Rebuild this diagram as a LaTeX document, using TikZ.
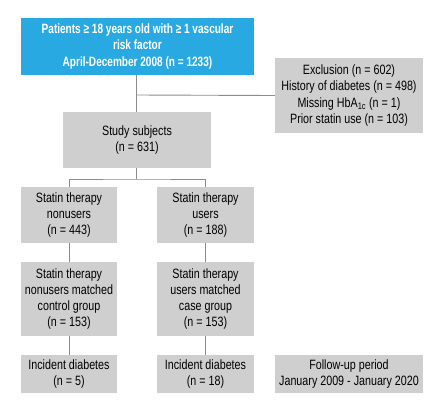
\documentclass[tikz,border=0pt]{standalone}
\usepackage{fontspec}
\setmainfont{Liberation Sans}[FakeStretch=0.795, BoldFeatures={FakeStretch=0.745}]
\usetikzlibrary{positioning, calc}
\definecolor{boxgray}{HTML}{CFCFCF}
\definecolor{topblue}{HTML}{29A9E1}
\definecolor{linegray}{HTML}{8C8C8C}

\begin{document}
\begin{tikzpicture}[x=1pt, y=-1pt,
    every node/.style={align=center, inner sep=0pt, font=\fontsize{13.5}{16.3}\selectfont},
    graybox/.style={fill=boxgray, minimum height=#1},
    wide/.style={minimum width=148pt},
    narrow/.style={minimum width=96.5pt},
    link/.style={draw=linegray, line width=0.9pt}]

    \useasboundingbox (0,0) rectangle (444,407);

    % Parameters
    \def\xl{69} % left column
    \def\xr{205.5} % right column

    % Top box
    \node[fill=topblue, text=white, font=\fontsize{13.5}{16.3}\selectfont\bfseries,
          minimum width=233pt, minimum height=57pt] (P) at (137.5,46.5)
          {Patients ≥ 18 years old with ≥ 1 vascular\\ risk factor\\ April-December 2008 (n = 1233)};

    % Exclusion and study subjects
    \node[graybox=75pt, wide] (E) at (349,95.5)
          {Exclusion (n = 602)\\ History of diabetes (n = 498)\\ Missing HbA\textsubscript{1c} (n = 1)\\ Prior statin use (n = 103)};
    \node[graybox=56pt, wide] (S) at (137,140) {Study subjects\\ (n = 631)};

    % Groups
    \node[graybox=56pt, narrow] (N) at (\xl,215) {Statin therapy\\ nonusers\\ (n = 443)};
    \node[graybox=56pt, narrow] (U) at (\xr,215) {Statin therapy\\ users\\ (n = 188)};
    \node[graybox=74pt, narrow] (NC) at (\xl,299) {Statin therapy\\ nonusers matched\\ control group\\ (n = 153)};
    \node[graybox=74pt, narrow] (UC) at (\xr,299) {Statin therapy\\ users matched\\ case group\\ (n = 153)};
    \node[graybox=38pt, narrow] (ND) at (\xl,374) {Incident diabetes\\ (n = 5)};
    \node[graybox=38pt, narrow] (UD) at (\xr,374) {Incident diabetes\\ (n = 18)};
    \node[graybox=38pt, wide] (F) at (349,374) {Follow-up period\\ January 2009 - January 2020};

    % Edges
    \coordinate (J) at (136,95);
    \coordinate (K) at (136,179);
    \draw[link] (P.south -| J) -- (S.north -| J);
    \draw[link] (J) -- (E.west);
    \draw[link] (S.south -| K) -- (K);
    \draw[link] (N.north) |- (K) -| (U.north);
    \draw[link] (N) -- (NC);
    \draw[link] (U) -- (UC);
    \draw[link] (NC) -- (ND);
    \draw[link] (UC) -- (UD);

\end{tikzpicture}
\end{document}
